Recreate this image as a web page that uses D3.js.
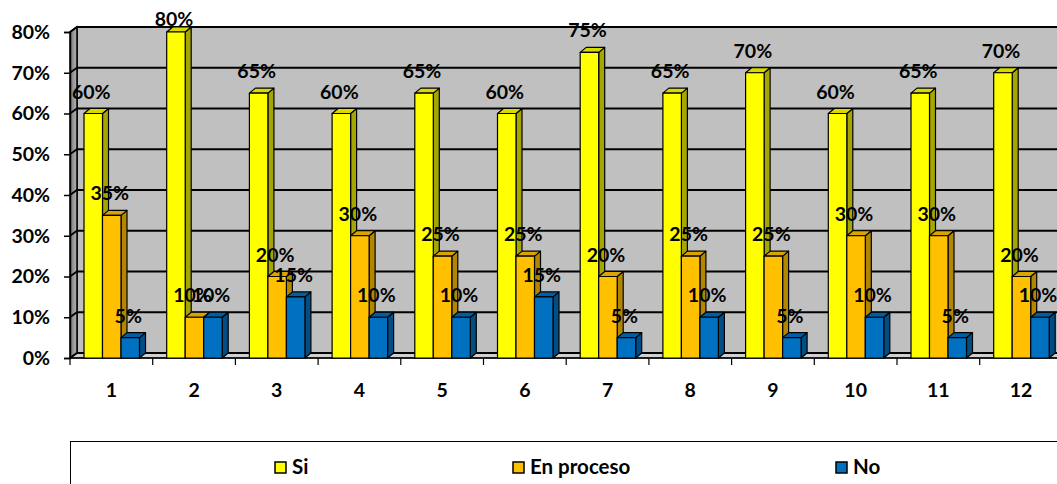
<!DOCTYPE html>
<html><head><meta charset="utf-8">
<script src="https://cdn.jsdelivr.net/npm/d3@7"></script>
<style>body{margin:0;background:#fff}svg{display:block}text{font-family:Lato,"Open Sans",sans-serif;font-weight:bold;fill:#000}</style>
</head><body><svg id="c" width="1057" height="484"></svg>
<script>
const categories = ["1","2","3","4","5","6","7","8","9","10","11","12"];
const seriesNames = ["Si","En proceso","No"];
const si =        [0.60,0.80,0.65,0.60,0.65,0.60,0.75,0.65,0.70,0.60,0.65,0.70];
const enProceso = [0.35,0.10,0.20,0.30,0.25,0.25,0.20,0.25,0.25,0.30,0.30,0.20];
const no =        [0.05,0.10,0.15,0.10,0.10,0.15,0.05,0.10,0.05,0.10,0.05,0.10];
const yTicks = [0,0.1,0.2,0.3,0.4,0.5,0.6,0.7,0.8];
const seriesValues = [si, enProceso, no];
const fronts = ["#FFFF00","#FFC000","#0070C0"];
const tops =   ["#D9D900","#D9A300","#005FA3"];
const sides =  ["#A6A600","#B38600","#004E86"];

const svg = d3.select("#c");
const X0 = 70, BAND = 82.7;
const WDX = 7, WDY = -5;   // wall depth
const BDX = 6, BDY = -5;   // bar depth
const x = d3.scaleBand().domain(categories).range([X0, X0 + BAND*categories.length]).paddingInner(0).paddingOuter(0);
const xs = d3.scaleBand().domain(seriesNames).range([14, 69.5]);
const y = d3.scaleLinear().domain([0,0.8]).range([358,32]);
const RIGHT = 1075;
const FS = "19.5px";

const defs = svg.append("defs");
const g = defs.append("linearGradient").attr("id","lw").attr("x1","0").attr("x2","1").attr("y1","0").attr("y2","0");
g.append("stop").attr("offset","0").attr("stop-color","#7a7a7a");
g.append("stop").attr("offset","1").attr("stop-color","#b5b5b5");

// back wall
svg.append("rect").attr("x", X0+WDX).attr("y", y(0.8)+WDY).attr("width", RIGHT-(X0+WDX)).attr("height", y(0)-y(0.8))
  .attr("fill","#C0C0C0").attr("stroke","#000").attr("stroke-width",1.5);
// left wall
svg.append("path").attr("d", d3.line()([[X0,y(0)],[X0+WDX,y(0)+WDY],[X0+WDX,y(0.8)+WDY],[X0,y(0.8)]]) + "Z")
  .attr("fill","url(#lw)").attr("stroke","#000").attr("stroke-width",1.5);
// floor
svg.append("path").attr("d", d3.line()([[X0,y(0)],[X0+WDX,y(0)+WDY],[RIGHT,y(0)+WDY],[RIGHT,y(0)]]) + "Z")
  .attr("fill","#D0D0D0").attr("stroke","#000").attr("stroke-width",1.2);
// gridlines
yTicks.forEach(t => {
  svg.append("path").attr("d", d3.line()([[X0,y(t)],[X0+WDX,y(t)+WDY],[RIGHT,y(t)+WDY]]))
    .attr("fill","none").attr("stroke","#000").attr("stroke-width",1.8);
});

// y axis
const yAxis = d3.axisLeft(y).tickValues(yTicks).tickFormat(d3.format(".0%")).tickSize(6).tickPadding(14);
const ya = svg.append("g").attr("transform",`translate(${X0},0)`).call(yAxis);
ya.select(".domain").attr("stroke","#000").attr("stroke-width",1.5);
ya.selectAll(".tick line").attr("stroke","#000").attr("stroke-width",1.5);
ya.selectAll(".tick text").style("font-size",FS).attr("font-family",null);

// x axis
const xAxis = d3.axisBottom(x).tickSize(0).tickPadding(25);
const xa = svg.append("g").attr("transform",`translate(0,${y(0)})`).call(xAxis);
xa.select(".domain").remove();
xa.append("line").attr("x1",X0).attr("x2",RIGHT).attr("y1",0).attr("y2",0).attr("stroke","#000").attr("stroke-width",1.5);
xa.selectAll(".tick text").style("font-size",FS).attr("font-family",null);
categories.forEach(c => {
  xa.append("line").attr("x1",x(c)).attr("x2",x(c)).attr("y1",0).attr("y2",7).attr("stroke","#000").attr("stroke-width",1.2);
});

// bars
const bars = svg.append("g");
categories.forEach((c,i) => {
  seriesNames.forEach((s,k) => {
    const v = seriesValues[k][i];
    const x1 = x(c) + xs(s), w = xs.bandwidth(), x2 = x1 + w;
    const yt = y(v), yb = y(0);
    const gg = bars.append("g").attr("stroke","#000").attr("stroke-width",1.2).attr("stroke-linejoin","round");
    gg.append("path").attr("d", d3.line()([[x2,yb],[x2+BDX,yb+BDY],[x2+BDX,yt+BDY],[x2,yt]])+"Z").attr("fill",sides[k]);
    gg.append("path").attr("d", d3.line()([[x1,yt],[x1+BDX,yt+BDY],[x2+BDX,yt+BDY],[x2,yt]])+"Z").attr("fill",tops[k]);
    gg.append("rect").attr("x",x1).attr("y",yt).attr("width",w).attr("height",yb-yt).attr("fill",fronts[k]);
  });
});
// labels
const labels = svg.append("g");
categories.forEach((c,i) => {
  seriesNames.forEach((s,k) => {
    const v = seriesValues[k][i];
    const cx = x(c) + xs(s) + xs.bandwidth()/2 - 2;
    labels.append("text").attr("x", cx).attr("y", Math.max(y(v) - 15, 26)).attr("text-anchor","middle")
      .style("font-size","19.5px").text(d3.format(".0%")(v));
  });
});

// legend
svg.append("rect").attr("x",70.5).attr("y",441.5).attr("width",1100).attr("height",80).attr("fill","none").attr("stroke","#000").attr("stroke-width",1);
const legX = [275, 513, 836];
seriesNames.forEach((s,k) => {
  svg.append("rect").attr("x",legX[k]).attr("y",462).attr("width",11).attr("height",11).attr("fill",fronts[k]).attr("stroke","#000").attr("stroke-width",1.5);
  svg.append("text").attr("x",legX[k]+17).attr("y",473.5).style("font-size","20.5px").text(s);
});
</script></body></html>
